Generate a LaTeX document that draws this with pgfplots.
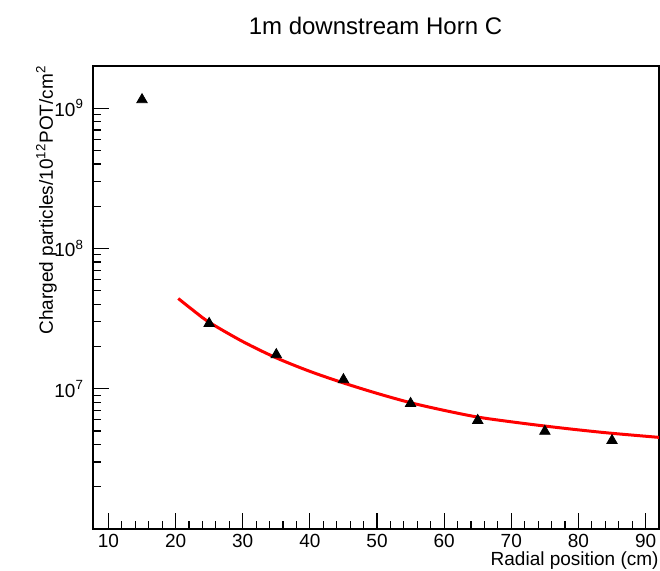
\documentclass[border=0pt]{standalone}
\usepackage{pgfplots}
\pgfplotsset{compat=1.18}
\usepackage{fontspec}
\setmainfont{Liberation Sans}

\begin{document}
\begin{tikzpicture}
\path[use as bounding box] (0,0) rectangle (330pt,285pt);
\begin{axis}[
    at={(46.5pt,20.5pt)}, anchor=south west,
    scale only axis,
    width=283pt, height=231.5pt,
    ymode=log,
    xmin=7.7, xmax=92,
    ymin=1e6, ymax=2e9,
    xtick={10,20,...,90},
    minor x tick num=4,
    ytick={1e7,1e8,1e9},
    yticklabels={10\textsuperscript{7},10\textsuperscript{8},10\textsuperscript{9}},
    minor ytick={2e6,3e6,4e6,5e6,6e6,7e6,8e6,9e6,
                 2e7,3e7,4e7,5e7,6e7,7e7,8e7,9e7,
                 2e8,3e8,4e8,5e8,6e8,7e8,8e8,9e8},
    xtick pos=bottom, ytick pos=left,
    tick align=inside,
    major tick length=8pt, minor tick length=4pt,
    tick style={black, line width=0.6pt},
    axis line style={line width=0.6pt},
    /pgf/number format/assume math mode=true,
    ticklabel style={font=\fontsize{9.5}{11}\selectfont},
    xticklabel style={yshift=1pt},
    yticklabel style={xshift=-1pt},
]
% fit curve
\addplot[red, line width=1.5pt, smooth, mark=none] coordinates {
    (20.4,4.40e7) (22.5,3.66e7) (25,2.98e7) (30,2.17e7) (35,1.66e7)
    (40,1.33e7) (45,1.10e7) (50,9.27e6) (55,7.95e6) (60,7.01e6)
    (65,6.28e6) (70,5.81e6) (75,5.42e6) (80,5.09e6) (85,4.81e6)
    (92,4.50e6)
};
% measured points
\addplot[only marks, mark=triangle*, mark size=3pt, black] coordinates {
    (15,1.15e9) (25,2.92e7) (35,1.75e7) (45,1.16e7)
    (55,7.85e6) (65,5.94e6) (75,4.97e6) (85,4.27e6)
};
\end{axis}
\node[anchor=base, font=\fontsize{12}{14}\selectfont] at (187.75pt,268pt) {1m downstream Horn C};
\node[anchor=base east, font=\fontsize{9.5}{11}\selectfont, inner sep=0pt] at (329.5pt,2.3pt) {Radial position (cm)};
\node[rotate=90, anchor=base east, font=\fontsize{9.5}{11}\selectfont, inner sep=0pt] at (26.5pt,252.5pt) {Charged particles/10\textsuperscript{12}POT/cm\textsuperscript{2}};
\end{tikzpicture}
\end{document}
